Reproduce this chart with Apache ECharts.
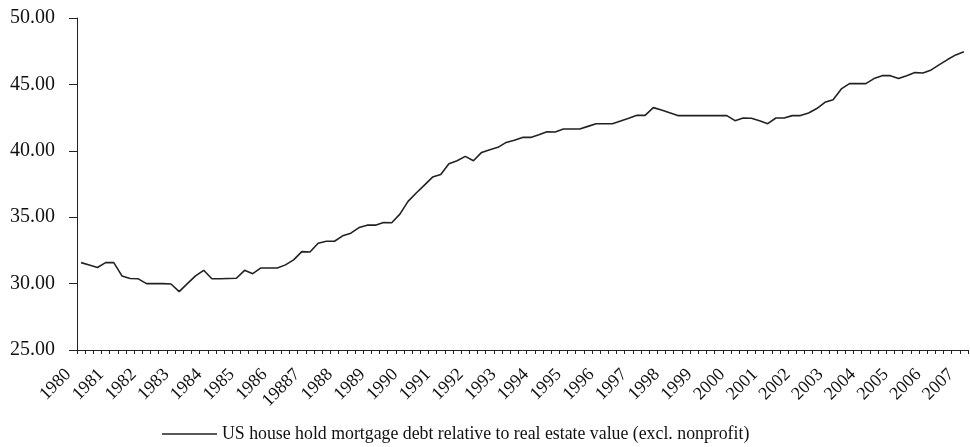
<!DOCTYPE html>
<html>
<head>
<meta charset="utf-8">
<script src="https://cdn.jsdelivr.net/npm/echarts@6/dist/echarts.min.js"></script>
<style>html,body{margin:0;padding:0;background:#fff}#c{width:970px;height:447px}</style>
</head>
<body>
<div id="c"></div>
<script>
// Year labels shown on every 4th quarter (first quarter of each year)
var tickLabels = ['1980','1981','1982','1983','1984','1985','1986','19887','1988','1989','1990','1991','1992','1993','1994','1995','1996','1997','1998','1999','2000','2001','2002','2003','2004','2005','2006','2007'];
var seriesName = 'US house hold mortgage debt relative to real estate value (excl. nonprofit)';
// Quarterly values, 1980 Q1 .. 2007 Q1
var values = [
 31.58,31.40,31.21,31.58, 31.58,30.58,30.38,30.36, 30.00,30.00,30.00,29.97,
 29.40,30.00,30.58,31.00, 30.36,30.36,30.38,30.40, 31.00,30.75,31.18,31.18,
 31.18,31.41,31.79,32.41, 32.38,33.04,33.19,33.19, 33.60,33.80,34.22,34.40,
 34.40,34.60,34.58,35.23, 36.19,36.82,37.42,38.02, 38.22,39.03,39.25,39.58,
 39.25,39.88,40.08,40.26, 40.63,40.79,41.01,41.01, 41.21,41.44,41.42,41.64,
 41.64,41.64,41.84,42.04, 42.04,42.04,42.25,42.45, 42.67,42.67,43.25,43.08,
 42.87,42.65,42.65,42.65, 42.65,42.65,42.65,42.65, 42.27,42.47,42.45,42.27,
 42.04,42.47,42.47,42.65, 42.65,42.85,43.18,43.65, 43.85,44.66,45.06,45.06,
 45.06,45.44,45.66,45.66, 45.44,45.66,45.89,45.86, 46.09,46.49,46.87,47.22,
 47.45
];
var categories = values.map(function (v, i) { return 'q' + i; });
var font = '"Liberation Serif","Times New Roman",serif';
var chart = echarts.init(document.getElementById('c'), null, {renderer: 'canvas'});
chart.setOption({
  animation: false,
  backgroundColor: '#fff',
  grid: {left: 77, right: 2, top: 18, bottom: 97, containLabel: false},
  legend: {
    show: true, left: 157, top: 420, itemWidth: 55, itemHeight: 1.5, itemGap: 5,
    icon: 'rect',
    textStyle: {fontFamily: font, fontSize: 17.8, color: '#111'},
    data: [{name: seriesName, icon: 'rect', itemStyle: {color: '#222'}}]
  },
  xAxis: {
    type: 'category', data: categories, boundaryGap: true,
    axisLine: {lineStyle: {color: '#222', width: 1}},
    axisTick: {show: true, interval: 0, length: 4, lineStyle: {color: '#222'}},
    axisLabel: {
      interval: 0, rotate: 45, margin: 9, padding: [0, 18, 0, 0],
      fontFamily: font, fontSize: 18, color: '#111',
      formatter: function (v, i) { return i % 4 === 0 ? (tickLabels[i / 4] || '') : ''; }
    },
    splitLine: {show: false}
  },
  yAxis: {
    type: 'value', min: 25, max: 50, interval: 5,
    axisLine: {show: true, lineStyle: {color: '#222', width: 1}},
    axisTick: {show: true, length: 8, lineStyle: {color: '#222'}},
    axisLabel: {margin: 22, fontFamily: font, fontSize: 20, color: '#111',
      formatter: function (v) { return v.toFixed(2); }},
    splitLine: {show: false}
  },
  series: [{
    name: seriesName, type: 'line', data: values, symbol: 'none', showSymbol: false,
    lineStyle: {color: '#222', width: 1.6}, itemStyle: {color: '#222'}
  }]
});
</script>
</body>
</html>
